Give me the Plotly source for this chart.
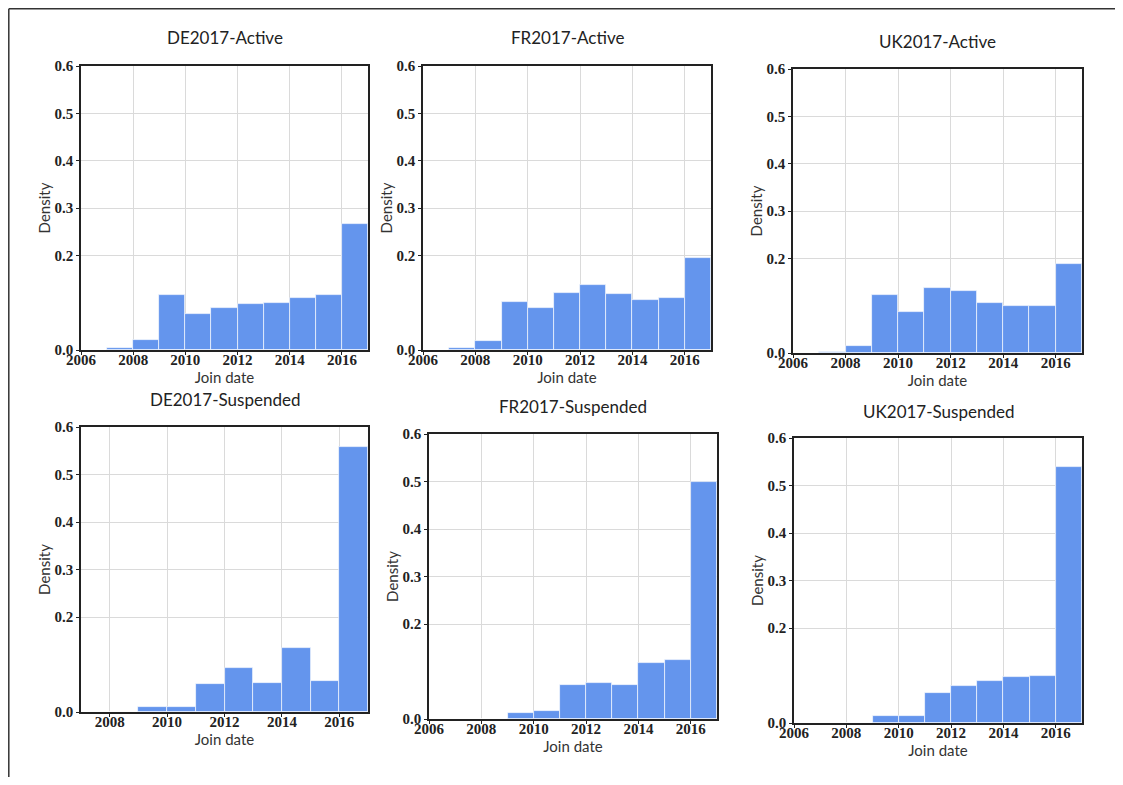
import plotly.graph_objects as go

# ---- data (density per one-year bin, bins start at given year) ----
bins_full = [2006, 2007, 2008, 2009, 2010, 2011, 2012, 2013, 2014, 2015, 2016]
bins_de_susp = [2007, 2008, 2009, 2010, 2011, 2012, 2013, 2014, 2015, 2016]

de_active = [0.0, 0.005, 0.021, 0.116, 0.077, 0.089, 0.098, 0.099, 0.109, 0.116, 0.267]
fr_active = [0.0, 0.004, 0.018, 0.102, 0.088, 0.120, 0.137, 0.118, 0.105, 0.110, 0.194]
uk_active = [0.0, 0.003, 0.014, 0.122, 0.087, 0.137, 0.130, 0.105, 0.100, 0.100, 0.189]
de_susp = [0.0, 0.0, 0.011, 0.011, 0.059, 0.092, 0.062, 0.134, 0.066, 0.558]
fr_susp = [0.0, 0.0, 0.0, 0.013, 0.016, 0.071, 0.076, 0.072, 0.118, 0.124, 0.499]
uk_susp = [0.0, 0.0, 0.0, 0.014, 0.015, 0.063, 0.077, 0.089, 0.096, 0.100, 0.538]

titles = ["DE2017-Active", "FR2017-Active", "UK2017-Active",
          "DE2017-Suspended", "FR2017-Suspended", "UK2017-Suspended"]
y_ticks = [0.0, 0.2, 0.3, 0.4, 0.5, 0.6]
y_tick_text = ["0.0", "0.2", "0.3", "0.4", "0.5", "0.6"]

series = [
    (bins_full, de_active, 2006),
    (bins_full, fr_active, 2006),
    (bins_full, uk_active, 2006),
    (bins_de_susp, de_susp, 2007),
    (bins_full, fr_susp, 2006),
    (bins_full, uk_susp, 2006),
]

# ---- layout: page-pixel boxes of each plotting area (left, right, top, bottom, title y) ----
PAGE_W, PAGE_H = 1123, 785
OFF = 8                      # default body margin of the html page
W, H = PAGE_W - 2 * OFF, PAGE_H - 2 * OFF
boxes = [
    (81, 368, 66, 350, 37),
    (423, 711, 66, 350, 37),
    (793, 1082, 69, 353, 41),
    (81, 368, 427, 712, 399),
    (429, 717, 434, 719, 407),
    (794, 1082, 438, 723, 411),
]


def px(xp):
    return (xp - OFF) / W


def py(yp):
    return 1 - (yp - OFF) / H


BAR = "#6495ED"
INK = "#222222"
GRID = "#dadada"
tick_font = dict(family="Liberation Serif", size=15, color=INK, weight="bold")
label_font = dict(family="Lato", size=15, color="#333333")
title_font = dict(family="Lato", size=17, color="#222222")

fig = go.Figure()
annotations = []
for i, ((bins, vals, xmin), (l, r, t, b, ty), title) in enumerate(zip(series, boxes, titles)):
    n = "" if i == 0 else str(i + 1)
    fig.add_trace(go.Bar(
        x=[s + 0.5 for s in bins], y=vals, width=1.0,
        marker=dict(color=BAR, line=dict(color="rgba(255,255,255,0.8)", width=0.8)),
        xaxis="x" + n, yaxis="y" + n, showlegend=False,
    ))
    xt = [v for v in range(2006, 2017, 2) if v >= xmin]
    fig.update_layout(**{
        "xaxis" + n: dict(
            domain=[px(l), px(r)], anchor="y" + n, range=[xmin, 2017],
            tickvals=xt, ticktext=[str(v) for v in xt],
            tickfont=tick_font, ticks="outside", ticklen=3, tickcolor=INK,
            ticklabelstandoff=-8,
            showgrid=True, gridcolor=GRID, gridwidth=1,
            showline=True, linecolor=INK, linewidth=1.5, mirror=True,
            zeroline=False, automargin=False,
            title=dict(text="Join date", font=label_font, standoff=3),
        ),
        "yaxis" + n: dict(
            domain=[py(b), py(t)], anchor="x" + n, range=[0, 0.6],
            tickvals=y_ticks, ticktext=y_tick_text,
            tickfont=tick_font, ticks="outside", ticklen=3, tickcolor=INK,
            showgrid=True, gridcolor=GRID, gridwidth=1,
            showline=True, linecolor=INK, linewidth=1.5, mirror=True,
            zeroline=False, automargin=False,
            title=dict(text="Density", font=label_font, standoff=0),
        ),
    })
    annotations.append(dict(
        text=title, x=px((l + r) / 2), y=py(ty), xref="paper", yref="paper",
        xanchor="center", yanchor="middle", showarrow=False, font=title_font,
    ))

edge_x = 0.8 / W
edge_y = 1 - 0.8 / H
shapes = [
    dict(type="line", xref="paper", yref="paper", x0=edge_x, x1=1, y0=edge_y, y1=edge_y,
         line=dict(color="#333333", width=1.5)),
    dict(type="line", xref="paper", yref="paper", x0=edge_x, x1=edge_x, y0=0, y1=edge_y,
         line=dict(color="#333333", width=1.5)),
]

fig.update_layout(
    width=W, height=H, margin=dict(l=0, r=0, t=0, b=0, pad=0, autoexpand=False),
    paper_bgcolor="white", plot_bgcolor="white", showlegend=False,
    annotations=annotations, shapes=shapes, bargap=0,
)

fig.write_html("out.html")
